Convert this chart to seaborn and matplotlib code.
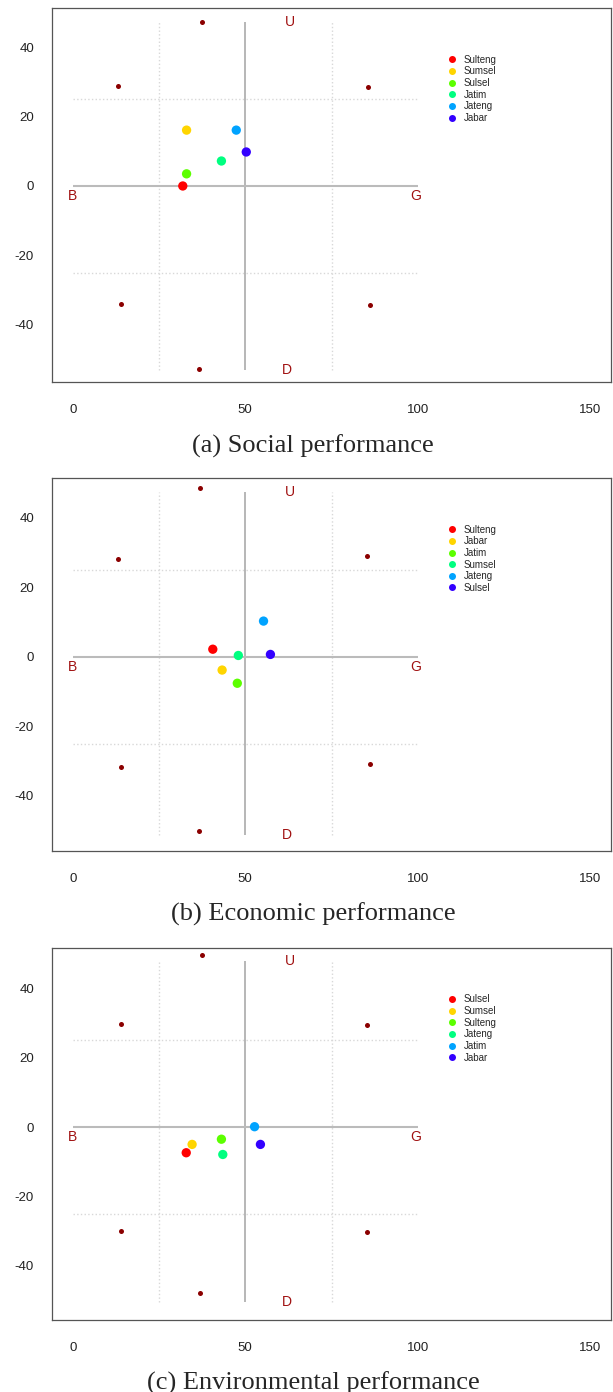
import pandas as pd
import matplotlib.pyplot as plt
import seaborn as sns

# rainbow colours, same order in every legend
point_colors = ["#FF0000", "#FFD500", "#5CFF00", "#00FF80", "#00A3FF", "#3300FF"]

# (a) Social performance
social_names = ["Sulteng", "Sumsel", "Sulsel", "Jatim", "Jateng", "Jabar"]
social_x = [31.9, 33.0, 33.0, 43.1, 47.4, 50.3]
social_y = [0.0, 16.1, 3.5, 7.2, 16.1, 9.8]
social_anchor_x = [37.4, 13.1, 85.5, 14.0, 86.1, 36.5]
social_anchor_y = [47.3, 28.8, 28.5, -34.0, -34.3, -52.7]

# (b) Economic performance
econ_names = ["Sulteng", "Jabar", "Jatim", "Sumsel", "Jateng", "Sulsel"]
econ_x = [40.6, 43.3, 47.7, 48.0, 55.3, 57.3]
econ_y = [2.2, -3.8, -7.6, 0.4, 10.3, 0.7]
econ_anchor_x = [36.8, 13.1, 85.2, 14.0, 86.1, 36.5]
econ_anchor_y = [48.7, 28.2, 29.1, -31.7, -30.8, -50.1]

# (c) Environmental performance
env_names = ["Sulsel", "Sumsel", "Sulteng", "Jateng", "Jatim", "Jabar"]
env_x = [32.9, 34.6, 43.1, 43.5, 52.7, 54.4]
env_y = [-7.4, -5.0, -3.5, -7.9, 0.1, -5.0]
env_anchor_x = [37.6, 14.0, 85.2, 14.0, 85.2, 36.8]
env_anchor_y = [49.6, 29.7, 29.4, -30.0, -30.3, -47.8]

# U / D label heights per panel, and the B / G positions
up_y = [47.3, 47.5, 47.8]
down_y = [-53.0, -51.2, -50.4]
pole_x = {"U": 63, "D": 62, "B": 0, "G": 99.5}
side_y = -3.0

ref_dotted = [25, 75]
ref_mid = 50
ref_h_dotted = [-25, 25]

captions = ["(a) Social performance", "(b) Economic performance",
            "(c) Environmental performance"]

sns.set_style("white")
plt.rcParams["font.family"] = ["Liberation Sans", "DejaVu Sans"]
plt.rcParams["axes.unicode_minus"] = False

fig = plt.figure(figsize=(6.13, 13.92), dpi=100)
W, H = 613, 1392
panel_tops = [8, 478, 948]
panel_bottoms = [382, 851, 1320]
caption_y = [446, 914, 1383]
ylims = [(-56.5, 51.3), (-55.9, 51.5), (-55.6, 51.6)]

panels = [
    (social_names, social_x, social_y, social_anchor_x, social_anchor_y),
    (econ_names, econ_x, econ_y, econ_anchor_x, econ_anchor_y),
    (env_names, env_x, env_y, env_anchor_x, env_anchor_y),
]

for i, (names, xs, ys, axs, ays) in enumerate(panels):
    top, bot = panel_tops[i], panel_bottoms[i]
    ax = fig.add_axes([52 / W, (H - bot) / H, 559 / W, (bot - top) / H])

    # reference lines
    ax.vlines(ref_dotted, down_y[i], up_y[i], colors="#D8D8D8", linestyles=":", lw=1, zorder=1)
    ax.hlines(ref_h_dotted, 0, 100, colors="#D8D8D8", linestyles=":", lw=1, zorder=1)
    ax.vlines(ref_mid, down_y[i], up_y[i], colors="#AAAAAA", lw=1.2, zorder=1)
    ax.hlines(0, 0, 100, colors="#BBBBBB", lw=1.5, zorder=1)

    # anchor points
    ax.scatter(axs, ays, s=13, color="#8B0000", zorder=2, linewidths=0)

    # pole labels
    ax.text(pole_x["U"], up_y[i], "U", color="#A01010", fontsize=10, ha="center", va="center")
    ax.text(pole_x["D"], down_y[i], "D", color="#A01010", fontsize=10, ha="center", va="center")
    ax.text(pole_x["B"], side_y, "B", color="#A01010", fontsize=10, ha="center", va="center")
    ax.text(pole_x["G"], side_y, "G", color="#A01010", fontsize=10, ha="center", va="center")

    df = pd.DataFrame({"x": xs, "y": ys, "name": names})
    sns.scatterplot(data=df, x="x", y="y", hue="name", hue_order=names,
                    palette=point_colors, s=45, edgecolor="none", ax=ax, zorder=3)
    sns.move_legend(ax, "upper left", bbox_to_anchor=(0.699, 0.875), frameon=False,
                    title=None, fontsize=7, labelspacing=0.17, handletextpad=0.15,
                    borderpad=0, borderaxespad=0, markerscale=0.75)

    ax.set_xlim(-6, 156)
    ax.set_ylim(*ylims[i])
    ax.set_xticks([0, 50, 100, 150])
    ax.set_yticks([-40, -20, 0, 20, 40])
    ax.set_xlabel("")
    ax.set_ylabel("")
    ax.tick_params(axis="both", direction="out", length=6, width=0.8,
                   color="#555555", labelsize=9.5, labelcolor="#222222")
    ax.tick_params(axis="x", pad=10)
    ax.tick_params(axis="y", pad=7)
    for sp in ax.spines.values():
        sp.set_color("#555555")
        sp.set_linewidth(0.9)

    fig.text(313 / W, 1 - caption_y[i] / H, captions[i], ha="center", va="center",
             fontsize=19, family=["Liberation Serif", "DejaVu Serif"])

fig.savefig("out.png", dpi=100)
